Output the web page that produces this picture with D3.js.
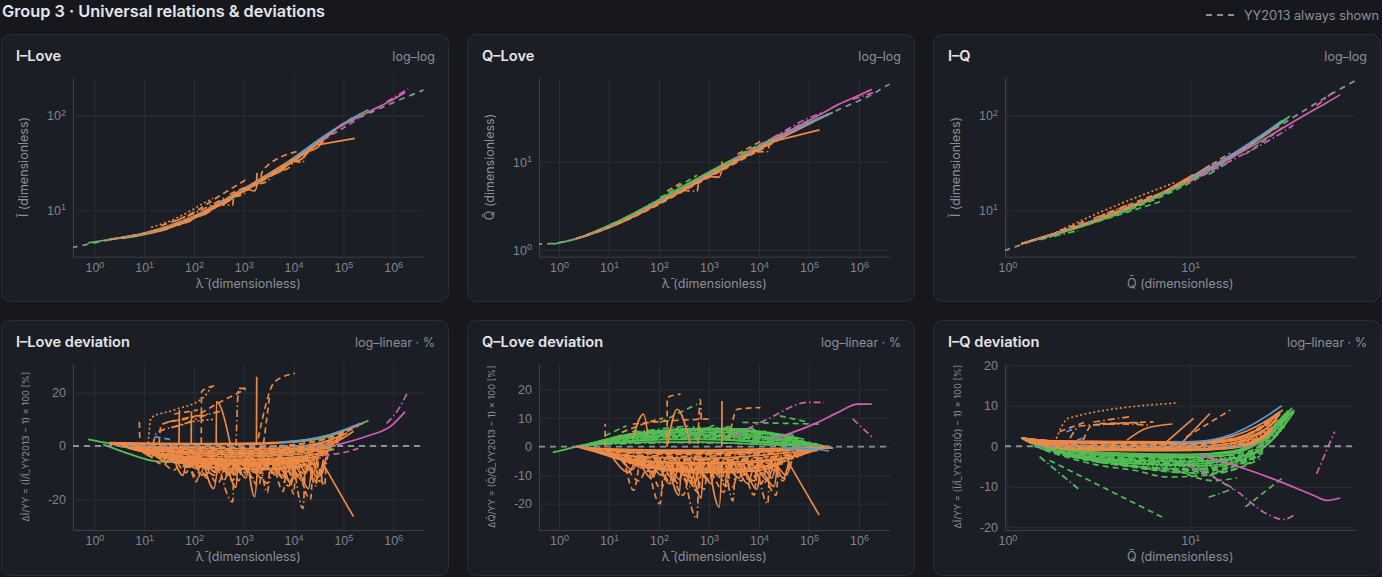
<!DOCTYPE html>
<html>
<head>
<meta charset="utf-8">
<script src="https://cdn.jsdelivr.net/npm/d3@7"></script>
<style>
  body { margin: 0; background: #16181d; overflow: hidden; }
  svg { display: block; font-family: Inter, "Noto Sans", "DejaVu Sans", sans-serif; }
</style>
</head>
<body>
<svg id="vis" width="1382" height="577"></svg>
<script>
// ---- reference curves (YY2013) ----
const yyILove = [[0.35,4.03],[1,4.54],[3,5.07],[10,5.71],[30,6.8],[100,8.6],[300,11.9],[1e3,16.8],[3e3,23.5],[1e4,35],[3e4,52],[1e5,79.8],[3e5,103.5],[1e6,137],[3.7e6,182],[4.3e6,188]];
const yyQLove = [[0.35,1.16],[1,1.214],[3,1.415],[10,1.843],[30,2.486],[100,3.576],[300,5.05],[1e3,7.35],[3e3,10.23],[1e4,14.6],[3e4,20],[1e5,27.5],[3e5,37],[1e6,50],[1.8e6,58.5],[3.9e6,76],[4.3e6,78]];
const yyIQ = [[0.96,3.76],[1,3.857],[1.2,4.36],[1.5,5.03],[2,6.02],[3,7.82],[5,11.39],[7,15.17],[10,21.4],[15,33],[20,46],[30,75.1],[40,106.6],[50,139],[65,187],[82,240]];

// tick values
const lamTicks = [1, 10, 100, 1e3, 1e4, 1e5, 1e6];
const qTicks = [1, 10];
const iTicks = [10, 100];
const qLoveTicks = [1, 10];
const iLoveDevTicks = [-20, 0, 20];
const devTicks = [-20, -10, 0, 10, 20];

// m = model variant (0..3)
// ---------- I-Love (top) ----------
const iLoveTopGreen = [
  {m:0, p:[[0.75,4.53],[2,4.92],[7,5.5]]},
  {m:0, p:[[3.7,5.04],[20,6.02],[525,13.2],[5e3,26.7]]},
  {m:0, p:[[1e4,35.5],[1.5e5,93],[3.2e5,115]]}
];
const iLoveTopOrange = [
  {m:0, p:[[2,4.93],[10,5.76],[100,8.68],[1e3,16.95],[1e4,35.6],[5e4,64],[2.2e5,104]]},
  {m:1, p:[[2,4.9],[10,5.73],[100,8.57],[1e3,16.7],[1e4,35.2],[5e4,64.2],[1.5e5,94]]},
  {m:2, p:[[2,4.9],[10,5.68],[100,8.5],[1e3,16.55],[1e4,34.8],[5e4,63.6],[1e5,83]]},
  {m:0, p:[[2.5,4.99],[10,5.64],[100,8.41],[1e3,16.38],[1e4,34.5],[5e4,63],[8e4,76]]},
  {m:3, p:[[3,5.09],[10,5.61],[100,8.34],[1e3,16.23],[1e4,34.1],[4e4,57.2],[8e4,75]]},
  {m:1, p:[[3,5.07],[15,5.95],[100,8.27],[1e3,16.1],[1e4,33.8],[4e4,56.6],[7e4,71]]},
  {m:0, p:[[4,5.2],[20,6.2],[150,9.45],[1e3,15.96],[1e4,33.5],[3e4,50.5],[6e4,65.7]]},
  {m:2, p:[[5,5.29],[20,6.15],[200,9.95],[2e3,20.1],[1e4,33.3],[3e4,50.2]]},
  {m:1, p:[[6,5.37],[30,6.5],[300,11.2],[3e3,22.1],[2e4,42.4],[4e4,55.5]]},
  {m:0, p:[[8,5.48],[40,6.9],[400,12.1],[4e3,24.9],[2e4,42.2]]},
  {m:0, p:[[15,5.9],[30,6.39],[40,7.02],[80,7.56],[100,8.26],[200,9.56],[250,10.7],[500,12.5],[700,14.6]]},
  {m:2, p:[[200,10.2],[400,11.9],[500,13.2],[1e3,14.95],[1.5e3,18.1],[3e3,20.2],[4e3,24.4],[8e3,28],[1e4,32.6]]},
  {m:0, p:[[1e3,16.3],[2e3,19.6],[3e3,22.3],[6e3,26.6],[8e3,31],[1.5e4,35.2],[2e4,41.3],[3e4,45.8],[4e4,54.6]]},
  {m:1, p:[[30,6.6],[60,7.3],[90,8.4],[150,8.9],[220,10.6],[400,11.6],[600,14],[900,15.2]]},
  {m:3, p:[[13.8,6.6],[40,8.05],[150,11.7],[240,13.4]]},
  {m:1, p:[[22,6.9],[100,9.55],[300,13.8],[1.1e3,21]]},
  {m:2, p:[[40,7.6],[120,9.7],[400,13.4]]},
  {m:1, p:[[525,14.8],[1.23e3,18.2]]},
  {m:1, p:[[2.2e3,22.5],[2.45e3,26.7],[1.15e4,41.6]]},
  {m:0, p:[[1.8e3,19.5],[1.85e3,24.8]]},
  {m:0, p:[[3e4,49],[1.7e5,57.5]]},
  {m:2, p:[[300,11.5],[600,11.3],[620,13.5]]},
  {m:0, p:[[1.2e3,16.8],[1.66e3,16],[1.9e3,19.5]]},
  {m:2, p:[[1e4,33],[1.55e4,32],[1.7e4,40]]}
];
const iLoveTopBlue = [
  {m:0, p:[[1e4,35.6],[5e4,65],[2.2e5,104]]}
];
const iLoveTopPink = [
  {m:0, p:[[7.4e4,74],[3.5e5,111.5],[8.7e5,142],[1.74e6,175]]},
  {m:2, p:[[7.4e5,139],[2e6,191]]},
  {m:1, p:[[4e4,55.5],[2e5,92]]}
];

// ---------- Q-Love (top) ----------
const qLoveTopGreen = [
  {m:0, p:[[0.75,1.166],[2,1.32],[10,1.87],[100,3.67],[1e3,7.53],[1e4,14.9],[1e5,27.6],[3e5,36.8]]},
  {m:1, p:[[2.2,1.345],[10,1.88],[100,3.71],[1e3,7.65],[1e4,15],[1e5,27.8],[2.5e5,35.5]]},
  {m:0, p:[[3,1.415],[15,2.12],[150,4.25],[1.5e3,8.73],[1.2e4,16.2],[8e4,26.7],[2e5,33.5]]},
  {m:2, p:[[3,1.415],[20,2.3],[300,5.28],[3e3,10.7],[3e4,20.5],[1.5e5,31.2]]},
  {m:1, p:[[105,3.93],[575,7.1]]},
  {m:1, p:[[4.3e3,12.4],[1.5e5,33.5]]}
];
const qLoveTopOrange = [
  {m:0, p:[[2.2,1.342],[10,1.83],[100,3.53],[1e3,7.26],[1e4,14.5],[1e5,27.4],[2.5e5,35.5]]},
  {m:1, p:[[2.2,1.342],[10,1.81],[100,3.48],[1e3,7.15],[1e4,14.3],[1e5,27.3],[2.5e5,35.3]]},
  {m:0, p:[[2.5,1.37],[12,1.88],[120,3.64],[1.2e3,7.46],[1.2e4,15.1],[8e4,25.9],[2e5,33.3]]},
  {m:2, p:[[3,1.41],[15,1.98],[150,3.87],[1.5e3,7.9],[1.5e4,15.9],[6e4,23.9],[1.5e5,30.7]]},
  {m:0, p:[[3,1.41],[20,2.12],[200,4.19],[2e3,8.53],[2e4,17],[1.2e5,28.5]]},
  {m:1, p:[[6,1.6],[40,2.54],[400,5.07],[4e3,10.24],[3e4,18.9]]},
  {m:0, p:[[2.57e4,17.9],[1.62e5,23.3]]},
  {m:2, p:[[300,4.8],[575,4.64],[620,5.9]]},
  {m:0, p:[[1e3,6.9],[1.6e3,6.75],[1.8e3,8.1]]},
  {m:2, p:[[9e3,13.1],[1.5e4,13.2],[1.6e4,15.8]]},
  {m:1, p:[[145,4.69],[270,5.74]]},
  {m:0, p:[[1.8e3,8.8],[1.82e3,10.2]]},
  {m:1, p:[[3.7e3,12.3],[1.07e4,17.2]]}
];
const qLoveTopBlue = [
  {m:0, p:[[3e4,19.9],[1.5e5,30.7],[2.5e5,35]]}
];
const qLoveTopPink = [
  {m:0, p:[[2e4,18.4],[1.5e5,33.6],[3.8e5,45.1],[9.5e5,56.9],[1.8e6,67.2]]},
  {m:2, p:[[3.2e3,10.8],[1.5e4,17.6],[9.5e4,31.5],[2e5,37.4]]},
  {m:2, p:[[7.5e5,51.9],[2e6,62.3]]}
];

// ---------- I-Q (top) ----------
const iqTopGreen = [
  {m:0, p:[[1.19,4.43],[1.6,5.25],[3,7.7],[10,21],[17,37.5],[25,61.3],[33,91.2]]},
  {m:1, p:[[1.19,4.43],[1.7,5.41],[3,7.62],[10,20.8],[18,39.8],[26,63.8],[34,94.8]]},
  {m:0, p:[[1.19,4.43],[1.8,5.57],[3,7.57],[10,20.6],[18,39.5],[27,66.5],[35,98.6]]},
  {m:2, p:[[1.3,4.64],[2,5.91],[4,9.18],[9,18.4],[16,34.3],[22,50.9]]},
  {m:1, p:[[1.6,5.19],[3,7.47],[5,10.7],[7.5,14.9],[12,23.9],[17,36.1],[22.5,51.5]]},
  {m:2, p:[[1.5,4.9],[2.44,6.11]]},
  {m:1, p:[[1.7,5.25],[7,12.5]]},
  {m:2, p:[[12.6,23.9],[17.2,34.5]]},
  {m:1, p:[[20,39.1],[32.4,75.8]]}
];
const iqTopOrange = [
  {m:0, p:[[1.19,4.43],[1.6,5.31],[3,7.91],[10,21.6],[17,38.9],[25,63.3],[31,84.8]]},
  {m:1, p:[[1.19,4.43],[1.6,5.29],[3,7.87],[10,21.5],[17,38.6],[25,62.7],[30,80.8]]},
  {m:0, p:[[1.19,4.43],[1.7,5.47],[3,7.82],[10,21.36],[17,38.3],[25,62.1],[30,80]]},
  {m:2, p:[[1.19,4.43],[1.8,5.66],[3,7.78],[10,21.27],[18,40.7],[25,61.5],[29,75.4]]},
  {m:0, p:[[1.19,4.43],[1.8,5.64],[3,7.74],[10,21.2],[18,40.5],[24,58.3],[28,71.4]]},
  {m:3, p:[[1.85,5.85],[2.15,6.73],[8.4,19.9]]},
  {m:1, p:[[1.93,6.1],[2.7,7.75]]},
  {m:2, p:[[2.95,8.2],[4.67,11.6]]},
  {m:1, p:[[3.2,8.63],[6.3,14.5]]},
  {m:0, p:[[7.4,16.2],[10.4,23.9]]},
  {m:0, p:[[9.1,19.6],[12.8,29.9]]},
  {m:1, p:[[9.5,20.7],[16.5,40.1]]}
];
const iqTopBlue = [
  {m:0, p:[[10,21.6],[17.2,39.8],[25,63.9],[32,89.3]]}
];
const iqTopPink = [
  {m:0, p:[[11.3,23.7],[21.2,46.3],[47,113.6],[55.7,136.5],[66,166]]},
  {m:2, p:[[9.55,19.4],[17.2,34.5],[26.2,52.9],[32.3,67.4],[36.6,79.3]]},
  {m:2, p:[[49,126.8],[61.5,182]]}
];

// ---------- I-Love deviation [%] ----------
const iLoveDevGreen = [
  {m:0, p:[[0.75,2.5],[2,1],[7,0],[30,-0.5]]},
  {m:0, p:[[1.5,0.6],[3.7,-2.1],[20,-5.9],[525,-6.5],[5e3,-6]]},
  {m:0, p:[[1e4,1.5],[5e4,3.5],[1.5e5,7],[3.2e5,9.5]]},
  {m:1, p:[[5e3,-2],[3e4,-2],[8e4,-1]]},
  {m:2, p:[[300,-3],[2e3,-3.5],[2e4,-3]]}
];
const iLoveDevOrange = [
  {m:0, p:[[2,1.2],[10,0.8],[100,0.6],[1e3,0.6],[1e4,1.5],[5e4,4],[2e5,8]]},
  {m:1, p:[[2,1.0],[10,0.3],[100,-0.3],[1e3,-0.5],[1e4,0.5],[5e4,3],[1.5e5,6.5]]},
  {m:2, p:[[2,0.8],[10,-0.5],[100,-1.2],[1e3,-1.5],[1e4,-0.5],[5e4,2],[1e5,4]]},
  {m:0, p:[[2.5,0.6],[10,-1.2],[100,-2.2],[1e3,-2.5],[1e4,-1.5],[5e4,1],[8e4,2.5]]},
  {m:3, p:[[3,0.3],[10,-1.8],[100,-3],[1e3,-3.4],[1e4,-2.5],[4e4,-0.5],[8e4,1.5]]},
  {m:1, p:[[3,0],[15,-2.5],[100,-3.8],[1e3,-4.2],[1e4,-3.4],[4e4,-1.5],[7e4,0.5]]},
  {m:0, p:[[4,-0.3],[20,-3.2],[150,-4.6],[1e3,-5],[1e4,-4.2],[3e4,-2.8],[6e4,-1]]},
  {m:2, p:[[5,-0.8],[20,-3.8],[200,-5.4],[2e3,-5.6],[1e4,-4.8],[3e4,-3.5]]},
  {m:1, p:[[6,-1.2],[30,-4.5],[300,-6],[3e3,-6],[2e4,-4.5],[4e4,-3.5]]},
  {m:0, p:[[8,-1.8],[40,-5.2],[400,-6.8],[4e3,-6.2],[2e4,-5]]},
  {m:3, p:[[10,-2.2],[60,-5.8],[600,-7.4],[5e3,-6.6],[3e4,-4]]},
  {m:0, p:[[2,1.3],[20,1],[300,0.9],[3e3,1.2],[2e4,2.5],[8e4,5],[2.5e5,8.5]]},
  {m:1, p:[[3,0.5],[30,-1.2],[500,-2],[5e3,-1.8],[3e4,0],[1e5,3.5]]},
  {m:2, p:[[4,0.2],[40,-2.8],[600,-3.8],[6e3,-3],[3e4,-1.2],[8e4,1]]},
  {m:0, p:[[2.2,0.9],[12,-0.2],[150,-0.8],[1.5e3,-1],[1.5e4,0],[6e4,2.5],[1.2e5,5]]},
  {m:1, p:[[5,-0.4],[25,-2],[250,-2.8],[2.5e3,-3],[2e4,-2],[6e4,0]]},
  {m:0, p:[[7,-1],[50,-4],[500,-5.2],[5e3,-5],[3e4,-3],[5e4,-2]]},
  {m:2, p:[[12,-2.5],[80,-6.2],[800,-7.8],[6e3,-7],[2.5e4,-5.5]]},
  {m:0, p:[[2,1.1],[6,0.4],[30,-1.5],[90,-2.6],[400,-3.1],[2e3,-2.8],[1.2e4,-1.9],[6e4,0.8],[1.6e5,5.5]]},
  {m:1, p:[[2.5,0.7],[8,-0.6],[40,-2.4],[150,-3.6],[700,-4],[4e3,-3.6],[2e4,-2.4],[7e4,0.2]]},
  {m:2, p:[[3,0.4],[9,-1.4],[50,-3.6],[200,-4.8],[900,-5.3],[5e3,-4.7],[2.5e4,-3.3],[6e4,-1.4]]},
  {m:0, p:[[3.5,0.2],[11,-2],[60,-4.4],[250,-5.8],[1.1e3,-6.2],[6e3,-5.6],[2.5e4,-4.2],[5e4,-2.6]]},
  {m:3, p:[[4,0],[14,-2.6],[80,-5.2],[300,-6.4],[1.5e3,-6.9],[7e3,-6.3],[2.8e4,-4.8]]},
  {m:1, p:[[2,1.2],[5,0.9],[20,0.2],[100,-0.4],[600,-0.6],[4e3,-0.2],[2e4,1.2],[9e4,4.5],[2e5,7.5]]},
  {m:0, p:[[2.2,1],[7,0.1],[35,-1],[180,-1.6],[1.1e3,-1.8],[7e3,-1.2],[3e4,0.6],[1.1e5,4.6]]},
  {m:2, p:[[6,-0.6],[25,-3.4],[120,-4.8],[600,-5.6],[3e3,-5.2],[1.5e4,-4],[4.5e4,-2.2]]},
  {m:0, p:[[9,-1.6],[35,-4.8],[180,-6.4],[800,-7],[4e3,-6.6],[1.8e4,-5.6],[3.5e4,-4.4]]},
  {m:1, p:[[15,-2.8],[70,-6.6],[350,-8],[1.5e3,-8.4],[8e3,-7.6],[2.5e4,-6.2]]},
  {m:0, p:[[20,-3.4],[100,-7.2],[500,-8.6],[3e3,-8.8],[1.2e4,-7.8],[3e4,-6.6]]},
  {m:0, p:[[15,-3],[30,-6],[40,-3.5],[80,-8],[100,-4],[200,-9],[250,-5],[500,-10],[700,-5]]},
  {m:1, p:[[50,-2],[80,-7],[120,-4],[250,-11],[300,-6],[600,-13],[800,-6],[1.5e3,-12],[2e3,-7]]},
  {m:2, p:[[200,-3],[400,-8],[500,-5],[1e3,-11],[1.5e3,-7],[3e3,-14],[4e3,-8],[8e3,-15],[1e4,-7]]},
  {m:0, p:[[1e3,-3],[2e3,-8],[3e3,-5],[6e3,-12],[8e3,-6],[1.5e4,-13],[2e4,-7],[3e4,-12],[4e4,-5]]},
  {m:1, p:[[20,-4],[40,-9],[60,-5],[120,-12],[150,-7],[300,-14],[400,-8]]},
  {m:2, p:[[3e3,-4],[5e3,-9],[7e3,-6],[1.2e4,-11],[2e4,-8],[3e4,-14],[4e4,-6]]},
  {m:3, p:[[30,-2],[60,-6],[100,-3],[200,-7],[300,-4],[700,-9],[1e3,-5],[2e3,-10],[2.5e3,-5]]},
  {m:0, p:[[500,-2],[900,-6],[1.2e3,-4],[2.5e3,-9],[3.5e3,-5],[7e3,-10],[1e4,-5]]},
  {m:1, p:[[12,-3],[25,-7],[35,-4],[70,-10],[90,-6],[150,-11],[180,-6]]},
  {m:0, p:[[2e3,-2],[4e3,-7],[5e3,-4],[1e4,-9],[1.3e4,-5],[2.5e4,-10],[3e4,-4]]},
  {m:0, p:[[25,-3],[45,-6.5],[60,-4.5],[110,-8.5],[140,-5],[260,-9.5],[330,-6],[520,-11],[650,-7],[1.1e3,-12],[1.3e3,-6]]},
  {m:2, p:[[100,-3],[180,-7],[220,-4.5],[450,-9.5],[550,-6],[1.1e3,-10],[1.3e3,-6],[2.2e3,-12],[2.6e3,-7]]},
  {m:1, p:[[400,-3.5],[700,-7.5],[850,-5],[1.8e3,-9.5],[2.2e3,-6],[4.5e3,-11],[5.5e3,-6.5],[1.1e4,-12],[1.4e4,-6]]},
  {m:0, p:[[5e3,-3],[9e3,-8],[1.1e4,-5],[1.8e4,-10],[2.2e4,-6],[3.5e4,-11],[4.5e4,-4]]},
  {m:3, p:[[15,-2],[28,-5],[38,-3],[65,-7.5],[85,-4.5],[160,-8.5],[210,-5],[380,-9],[460,-5]]},
  {m:1, p:[[60,-4],[100,-8],[130,-5.5],[280,-10],[350,-6.5],[750,-11],[900,-7],[1.7e3,-10],[2e3,-6]]},
  {m:2, p:[[1.5e3,-4],[2.8e3,-8.5],[3.5e3,-6],[7e3,-11.5],[9e3,-7],[1.7e4,-10.5],[2.2e4,-6.5],[3.8e4,-9],[5e4,-3]]},
  {m:0, p:[[8,-1],[14,-4],[18,-2],[30,-6],[40,-3],[70,-7.5],[85,-4],[130,-8],[160,-4.5]]},
  {m:1, p:[[250,-4],[380,-10],[420,-6],[800,-13],[950,-7],[2e3,-15],[2.3e3,-8]]},
  {m:0, p:[[2.5e3,-5],[4e3,-10],[4.8e3,-7],[9e3,-14],[1.1e4,-8],[2e4,-16],[2.3e4,-8]]},
  {m:2, p:[[40,-3],[70,-8],[90,-5],[180,-11],[220,-6],[420,-12.5],[480,-7]]},
  {m:2, p:[[300,-5],[600,-21],[630,-6]]},
  {m:0, p:[[1.2e3,-6],[1.66e3,-19],[1.9e3,-7]]},
  {m:2, p:[[1e4,-6],[1.55e4,-23.4],[1.7e4,-8]]},
  {m:1, p:[[4e3,-6],[6.2e3,-17],[7e3,-9]]},
  {m:0, p:[[4e4,-7],[1.6e5,-26.5]]},
  {m:1, p:[[80,-6],[112,-13.4],[130,-6]]},
  {m:2, p:[[2e4,-6],[2.8e4,-15],[3.1e4,-6]]},
  {m:0, p:[[150,-5],[250,-16],[300,-7]]},
  {m:1, p:[[8e3,-5],[1e4,-18],[1.1e4,-7]]},
  {m:2, p:[[2.5e4,-4],[3.5e4,-14],[4e4,-5]]},
  {m:0, p:[[40,-5],[60,-11],[70,-5]]},
  {m:0, p:[[450,-6],[700,-15.5],[760,-6]]},
  {m:2, p:[[2.2e3,-7],[3e3,-17.5],[3.3e3,-8]]},
  {m:1, p:[[1.2e4,-6],[2.2e4,-20],[2.4e4,-8]]},
  {m:0, p:[[6e3,-6],[9e3,-14],[1e4,-7]]},
  {m:1, p:[[3e4,-5],[4.2e4,-15],[4.5e4,-6]]},
  {m:2, p:[[130,-5],[180,-12],[200,-6]]},
  {m:1, p:[[8,9],[8.2,0.5]]},
  {m:3, p:[[12,1],[13.8,10.6],[40,13.5],[150,18],[240,22.9]]},
  {m:1, p:[[20,1],[22,8],[100,11],[300,16],[1.1e3,21.3]]},
  {m:2, p:[[15,0.5],[18,5],[60,8],[200,12],[330,13]]},
  {m:1, p:[[140,1],[142,20.4],[260,22.6]]},
  {m:0, p:[[1.8e3,0.5],[1.82e3,26]]},
  {m:1, p:[[1.95e3,2.9],[4.2e3,24.1],[1.07e4,27.25]]},
  {m:0, p:[[280,0],[282,16.6],[560,-1]]},
  {m:2, p:[[700,0],[790,21.6],[1.1e3,21.6]]},
  {m:1, p:[[2.5e3,1],[3.3e3,18.5]]},
  {m:2, p:[[30,9],[70,10.5],[200,12]]},
  {m:1, p:[[40,12],[120,13.5]]},
  {m:0, p:[[50,1],[51,13.5]]},
  {m:0, p:[[88,0.5],[89,13]]},
  {m:3, p:[[35,7],[90,9],[250,10]]}
];
const iLoveDevBlue = [
  {m:0, p:[[5e3,1.4],[1e4,1.8],[5e4,4],[2.2e5,8.5]]},
  {m:1, p:[[16,3.5],[38,2.25]]}
];
const iLoveDevPink = [
  {m:0, p:[[7.4e4,0.4],[3.5e5,4.1],[8.7e5,7.25],[1.74e6,12.9]]},
  {m:2, p:[[7.4e5,8.5],[1.3e6,14],[2e6,20.6]]},
  {m:1, p:[[4e4,-3.4],[1e5,-2.5],[2e5,-0.9]]}
];

// ---------- Q-Love deviation [%] ----------
const qLoveDevGreen = [
  {m:0, p:[[0.75,-2],[1.5,-0.8],[2.2,0],[10,1.5],[100,2.5],[1e3,2.5],[1e4,1.5],[1e5,0.3],[3e5,-0.5]]},
  {m:1, p:[[2.2,0],[10,2.2],[100,3.8],[1e3,4],[1e4,2.8],[1e5,1],[2.5e5,0]]},
  {m:0, p:[[2.5,0],[12,3],[150,4.8],[1.5e3,5],[1.2e4,3.5],[8e4,1.5],[2e5,0.2]]},
  {m:2, p:[[3,0],[15,3.6],[200,5.6],[2e3,5.4],[1.5e4,4],[6e4,2.2],[1.5e5,0.5]]},
  {m:0, p:[[2.2,0],[8,1],[60,1.6],[700,1.6],[8e3,0.9],[2e5,0]]},
  {m:1, p:[[3,0.3],[20,2.6],[300,3.2],[3e3,3.2],[2e4,2.2],[1.2e5,0.6]]},
  {m:3, p:[[4,0.5],[30,3.4],[400,4.3],[4e3,4.1],[3e4,2.8],[1.2e5,1.2]]},
  {m:0, p:[[5,1],[40,4.4],[500,6],[5e3,5.6],[2e4,4.5],[8e4,2.6]]},
  {m:2, p:[[2.5,0.2],[15,2],[150,2.8],[1.5e3,3],[1.5e4,2],[1.5e5,0.4]]},
  {m:1, p:[[3.5,0.4],[25,3],[250,3.8],[2.5e3,3.6],[2.5e4,2.4],[1e5,1]]},
  {m:0, p:[[2.3,0.1],[9,1.2],[50,2.2],[300,2.6],[2e3,2.5],[1.2e4,1.8],[6e4,0.8],[2e5,0.1]]},
  {m:1, p:[[2.6,0.2],[11,2.6],[70,3.8],[500,4.4],[3e3,4.2],[1.5e4,3.2],[6e4,1.8],[1.6e5,0.6]]},
  {m:2, p:[[3.2,0.4],[14,3.2],[90,4.6],[700,5.2],[4e3,4.9],[2e4,3.8],[7e4,2],[1.5e5,0.9]]},
  {m:0, p:[[4,0.8],[18,3.8],[120,5.4],[900,6],[5e3,5.5],[2e4,4.2],[6e4,2.6]]},
  {m:3, p:[[2.4,0.1],[10,1.8],[60,3],[400,3.6],[2.5e3,3.4],[1.5e4,2.5],[8e4,1.2],[2.2e5,0.2]]},
  {m:1, p:[[3,0.3],[12,2.2],[80,3.4],[600,3.9],[4e3,3.7],[2.5e4,2.6],[1e5,1.2]]},
  {m:0, p:[[6,1.5],[25,4.2],[150,5.8],[1e3,6.4],[6e3,5.8],[2.5e4,4.4],[5e4,3.2]]},
  {m:2, p:[[2.2,0],[6,0.6],[30,1.1],[200,1.4],[1.5e3,1.3],[1e4,0.8],[1e5,0.1]]},
  {m:1, p:[[20,3],[35,5.5],[45,3.5],[90,6],[120,4],[250,6.5],[300,4.5],[600,7],[800,4.5]]},
  {m:0, p:[[500,4],[900,6.5],[1.2e3,4.5],[2.5e3,7],[3.5e3,5],[7e3,6.5],[1e4,4]]},
  {m:2, p:[[100,3.5],[200,6],[260,4.5],[500,7],[650,5],[1.3e3,7.5],[1.6e3,5]]},
  {m:1, p:[[3e3,4],[6e3,6],[8e3,4.5],[1.5e4,5.5],[2e4,3.8],[4e4,4.5],[6e4,2.5]]},
  {m:0, p:[[10,2],[18,4],[25,2.8],[45,5],[60,3.5],[120,5.5],[150,4]]},
  {m:1, p:[[8.3,3.8],[22.4,7.3]]},
  {m:1, p:[[105,8.5],[575,14.9]]},
  {m:1, p:[[4.7e3,8.5],[1.6e5,7.9]]},
  {m:1, p:[[2.6e4,10.8],[1e5,8.5]]},
  {m:2, p:[[31,5],[150,6.5],[430,7.3]]},
  {m:0, p:[[270,6.2],[5.9e3,6.2]]},
  {m:2, p:[[60,3],[200,5],[1e3,6]]}
];
const qLoveDevOrange = [
  {m:0, p:[[2.2,0],[10,-0.8],[100,-1.2],[1e3,-1.2],[1e4,-0.8],[1e5,-0.3],[2.5e5,0]]},
  {m:1, p:[[2.2,0],[10,-1.8],[100,-2.6],[1e3,-2.8],[1e4,-2],[1e5,-0.8],[2.5e5,-0.2]]},
  {m:0, p:[[2.5,-0.2],[12,-2.6],[120,-3.8],[1.2e3,-4],[1.2e4,-3],[8e4,-1.5],[2e5,-0.5]]},
  {m:2, p:[[3,-0.4],[15,-3.4],[150,-4.8],[1.5e3,-5],[1.5e4,-4],[6e4,-2.5],[1.5e5,-1]]},
  {m:0, p:[[3,-0.6],[20,-4.2],[200,-5.8],[2e3,-6],[2e4,-4.8],[5e4,-3.5],[1.2e5,-1.6]]},
  {m:1, p:[[4,-1],[25,-5],[250,-6.8],[2.5e3,-7],[2e4,-5.6],[6e4,-3.6]]},
  {m:3, p:[[5,-1.4],[30,-5.6],[300,-7.6],[3e3,-7.6],[2.5e4,-6]]},
  {m:0, p:[[6,-2],[40,-6.2],[400,-8.2],[4e3,-8],[3e4,-5.5]]},
  {m:1, p:[[2.3,-0.1],[10,-1.2],[100,-2],[1e3,-2],[1e4,-1.4],[1e5,-0.5],[2.8e5,-0.2]]},
  {m:2, p:[[3,-0.3],[20,-3],[300,-4.3],[3e3,-4.5],[3e4,-3.2],[1.5e5,-1.3]]},
  {m:0, p:[[2.4,-0.1],[12,-1.5],[120,-2.3],[1.2e3,-2.4],[1.2e4,-1.8],[1.2e5,-0.6],[3e5,-0.4]]},
  {m:1, p:[[4,-0.8],[30,-4.6],[300,-6.2],[3e3,-6.4],[3e4,-4.4],[8e4,-2.8]]},
  {m:0, p:[[8,-2.6],[60,-7],[600,-9],[6e3,-8.6],[2.5e4,-6.5]]},
  {m:0, p:[[2.3,0],[9,-1],[60,-1.6],[500,-1.8],[4e3,-1.6],[3e4,-1],[2e5,-0.2]]},
  {m:2, p:[[2.6,-0.2],[11,-2.2],[70,-3.2],[600,-3.4],[5e3,-2.8],[4e4,-1.8],[1.8e5,-0.6]]},
  {m:1, p:[[3.2,-0.5],[14,-3],[90,-4.3],[800,-4.6],[6e3,-4],[4e4,-2.8],[1.3e5,-1.2]]},
  {m:0, p:[[3.6,-0.7],[18,-3.8],[120,-5.3],[1e3,-5.6],[8e3,-5],[4e4,-3.6],[1e5,-2]]},
  {m:3, p:[[4.5,-1.2],[22,-4.6],[160,-6.3],[1.2e3,-6.6],[9e3,-6],[3.5e4,-4.8],[7e4,-3]]},
  {m:2, p:[[5.5,-1.6],[28,-5.3],[200,-7],[1.6e3,-7.3],[1.2e4,-6.6],[3.5e4,-5]]},
  {m:0, p:[[7,-2.2],[35,-6],[250,-7.8],[2e3,-8],[1.2e4,-7.2],[3e4,-6]]},
  {m:1, p:[[10,-3],[50,-7],[350,-8.8],[2.5e3,-9],[1.2e4,-8],[2.5e4,-7]]},
  {m:0, p:[[15,-3],[30,-8],[40,-4],[80,-10],[100,-5],[200,-12],[250,-6],[500,-14],[600,-7]]},
  {m:1, p:[[40,-3],[80,-9],[120,-5],[250,-13],[300,-7],[600,-16],[700,-8]]},
  {m:2, p:[[200,-4],[400,-9],[500,-6],[1e3,-12],[1.3e3,-7],[3e3,-14],[4e3,-8],[8e3,-12],[1e4,-6]]},
  {m:0, p:[[1e3,-4],[2e3,-9],[3e3,-6],[6e3,-13],[8e3,-7],[1.5e4,-12],[2e4,-6],[3e4,-11],[4e4,-5]]},
  {m:1, p:[[20,-5],[40,-12],[60,-7],[110,-15],[150,-8],[300,-17],[400,-9]]},
  {m:2, p:[[3e3,-5],[5e3,-10],[7e3,-6],[1.2e4,-13],[2e4,-8],[3e4,-12],[4e4,-6]]},
  {m:3, p:[[30,-2],[60,-7],[100,-4],[200,-9],[300,-5],[700,-11],[1e3,-6],[2e3,-12],[2.5e3,-6]]},
  {m:0, p:[[12,-4],[25,-9],[35,-5],[70,-11],[90,-6],[160,-13],[190,-7]]},
  {m:1, p:[[500,-3],[900,-8],[1.2e3,-5],[2.5e3,-11],[3.5e3,-6],[7e3,-12],[1e4,-6]]},
  {m:0, p:[[25,-3.5],[45,-7.5],[60,-5],[110,-10],[140,-6],[260,-11.5],[330,-7],[520,-13],[650,-8],[1.1e3,-13],[1.3e3,-7]]},
  {m:2, p:[[100,-4],[180,-8],[220,-5.5],[450,-11],[550,-7],[1.1e3,-12],[1.3e3,-7],[2.2e3,-14],[2.6e3,-8]]},
  {m:1, p:[[400,-4],[700,-8.5],[850,-6],[1.8e3,-11],[2.2e3,-7],[4.5e3,-12],[5.5e3,-7],[1.1e4,-13],[1.4e4,-7]]},
  {m:0, p:[[5e3,-4],[9e3,-9],[1.1e4,-6],[1.8e4,-11],[2.2e4,-7],[3.5e4,-10],[4.5e4,-5]]},
  {m:3, p:[[15,-3],[28,-6],[38,-4],[65,-9],[85,-5.5],[160,-10],[210,-6],[380,-11],[460,-6]]},
  {m:1, p:[[250,-5],[380,-12],[420,-7],[800,-15],[950,-8],[2e3,-16],[2.3e3,-8]]},
  {m:0, p:[[2.5e3,-6],[4e3,-11],[4.8e3,-8],[9e3,-15],[1.1e4,-9],[2e4,-14],[2.3e4,-7]]},
  {m:2, p:[[40,-4],[70,-9],[90,-6],[180,-13],[220,-7],[420,-14],[480,-8]]},
  {m:2, p:[[300,-6],[575,-25.2],[620,-8]]},
  {m:0, p:[[1e3,-6],[1.6e3,-21.2],[1.8e3,-7]]},
  {m:2, p:[[9e3,-6],[1.5e4,-20],[1.6e4,-7]]},
  {m:0, p:[[3.7e4,-4.9],[1.6e5,-24]]},
  {m:1, p:[[60,-6],[105,-20],[120,-8]]},
  {m:1, p:[[20,-4],[31,-15.3],[40,-6]]},
  {m:0, p:[[150,-5],[250,-17],[280,-6]]},
  {m:1, p:[[5e3,-6],[8e3,-17],[9e3,-6]]},
  {m:0, p:[[450,-7],[700,-18],[760,-7]]},
  {m:2, p:[[2.2e3,-8],[3e3,-19],[3.3e3,-8]]},
  {m:1, p:[[1.2e4,-7],[2.2e4,-17],[2.4e4,-8]]},
  {m:1, p:[[145,0],[146,17.2],[270,18.4]]},
  {m:0, p:[[1.8e3,0],[1.82e3,16]]},
  {m:1, p:[[8.3,0],[8.4,8]]},
  {m:1, p:[[2.5e3,2.5],[3.7e3,13.1],[1.07e4,13.7]]},
  {m:0, p:[[150,1],[230,13.1],[425,0.9]]},
  {m:2, p:[[600,1],[670,16.6],[700,9]]},
  {m:1, p:[[30,7.9],[150,9],[1e3,9.7]]},
  {m:0, p:[[30,3],[49,11.4],[60,4]]},
  {m:1, p:[[18,5],[50,8],[120,10]]}
];
const qLoveDevBlue = [
  {m:0, p:[[3e4,-0.5],[1.5e5,-1],[2.5e5,-1.5]]}
];
const qLoveDevPink = [
  {m:0, p:[[2e4,2.7],[1.5e5,8.5],[3.8e5,12],[9.5e5,14.9],[1.8e6,14.9]]},
  {m:2, p:[[3.2e3,3.8],[1.5e4,9.7],[9.5e4,15.5],[2e5,15.5]]},
  {m:2, p:[[7.5e5,9.7],[2e6,2.7]]}
];

// ---------- I-Q deviation [%] ----------
const iqDevGreen = [
  {m:0, p:[[1.19,2.1],[1.6,0.2],[3,-1.5],[10,-2],[17,-1.2],[25,2.5],[33,8.1]]},
  {m:1, p:[[1.19,2.1],[1.7,-0.5],[3,-2.5],[10,-3],[18,-2],[26,1.5],[34,8.5]]},
  {m:0, p:[[1.19,2.1],[1.8,-1],[3,-3.2],[10,-3.8],[18,-2.8],[27,0.8],[35,9]]},
  {m:2, p:[[1.19,2.1],[1.9,-1.4],[3.2,-3.6],[10,-4.3],[19,-3.5],[24,-0.2],[35,8.3]]},
  {m:0, p:[[1.3,1],[2,-1.8],[4,-4.2],[9,-4.5],[16,-3.5],[22,-1.5]]},
  {m:1, p:[[1.4,0],[2.5,-3],[5,-5],[10,-5.5],[17,-4.6],[22,-2.6]]},
  {m:1, p:[[1.6,-1],[3,-4.5],[5,-6],[7.5,-7.6],[12,-7.2],[17,-5.1],[22.5,-2.6]]},
  {m:2, p:[[1.5,-0.5],[3,-3.8],[6,-5.2],[11,-5.8],[16,-4.5],[21,-3]]},
  {m:1, p:[[2,-2.2],[4,-4.6],[8,-6.4],[13,-6.8],[20,-4.8],[24,-3.2]]},
  {m:0, p:[[1.25,1.5],[1.8,-0.3],[3,-2],[10,-2.5],[17,-1.6],[25,1.8],[32,7]]},
  {m:3, p:[[1.3,1.2],[2,-1],[4,-3],[10,-3.4],[18,-2.4],[25,0.4],[33,6.5]]},
  {m:0, p:[[1.19,2.1],[1.5,0.5],[2.5,-1.5],[5,-2.5],[10,-2.8],[16,-2.2],[22,0],[29,4],[34,8.8]]},
  {m:1, p:[[1.19,2.1],[1.6,0],[2.8,-2.2],[6,-3.4],[11,-3.6],[17,-2.8],[23,-0.6],[30,3.5],[36,8.8]]},
  {m:2, p:[[1.19,2.1],[1.7,-0.6],[3,-2.8],[6,-4],[11,-4.2],[17,-3.4],[23,-1.2],[30,3],[36,8.2]]},
  {m:0, p:[[1.2,1.8],[1.8,-0.8],[3.4,-3.2],[7,-4.6],[12,-4.8],[18,-3.6],[24,-1],[31,3.8],[37,8.6]]},
  {m:3, p:[[1.3,1.2],[2,-1.4],[4,-3.8],[8,-5],[13,-5],[19,-3.6],[25,-0.5],[33,5]]},
  {m:1, p:[[1.4,0.4],[2.4,-2.4],[5,-4.8],[9,-5.8],[14,-5.6],[20,-3.8],[25,-1]]},
  {m:2, p:[[1.6,-0.6],[3,-3.4],[6,-5.6],[10,-6.6],[15,-6.2],[20,-4.6],[24,-2.4]]},
  {m:0, p:[[1.19,2.1],[1.4,1],[2,-0.6],[4,-1.8],[9,-2.2],[16,-1.6],[23,0.8],[30,4.8],[34,8.4]]},
  {m:1, p:[[1.8,-1.6],[3.5,-4],[7,-5.8],[11,-6.2],[16,-5.4],[21,-3.6],[25,-1.6]]},
  {m:0, p:[[2,-1.5],[2.6,-3],[3.2,-2],[4,-3.8],[5,-2.5],[6,-4.5],[7.5,-3],[9,-4.8],[11,-3.2],[13,-4.6]]},
  {m:2, p:[[2.5,-2],[3.2,-3.5],[4,-2.6],[5,-4.2],[6.2,-3],[7.5,-5],[9,-3.6],[11,-5.2],[13,-3.8]]},
  {m:2, p:[[1.5,-2.6],[2.44,-10.5]]},
  {m:1, p:[[1.7,-3.5],[7,-17.5]]},
  {m:2, p:[[12.6,-12.6],[17.2,-10.5]]},
  {m:1, p:[[20,-15],[32.4,-7.6]]},
  {m:0, p:[[24,1],[36,9.5]]},
  {m:0, p:[[23,-0.5],[37,9]]},
  {m:1, p:[[8.5,-6],[13.5,-8.5],[18,-7.8]]},
  {m:2, p:[[11,-5],[16,-9.8]]}
];
const iqDevOrange = [
  {m:0, p:[[1.19,2.1],[1.6,1.4],[3,1.2],[10,1.0],[17,2.5],[25,5.8],[31,8.6]]},
  {m:1, p:[[1.19,2.1],[1.6,1.0],[3,0.6],[10,0.4],[17,1.6],[25,4.8],[30,7.6]]},
  {m:0, p:[[1.19,2.1],[1.7,0.6],[3,0],[10,-0.2],[17,0.8],[25,3.8],[30,6.6]]},
  {m:2, p:[[1.19,2.1],[1.8,0.2],[3,-0.5],[10,-0.6],[18,0.2],[25,2.8],[29,5.2]]},
  {m:0, p:[[1.19,2.1],[1.8,-0.2],[3,-1],[10,-1],[18,-0.3],[24,1.8],[28,4]]},
  {m:1, p:[[1.3,1.5],[2,0.8],[5,0.8],[12,0.8],[20,2.5],[28,6]]},
  {m:3, p:[[1.3,1.2],[2,0],[5,-0.3],[12,-0.2],[20,1.2],[27,4.5]]},
  {m:1, p:[[1.19,2.1],[1.5,1.6],[2.5,1.1],[6,0.9],[14,1.2],[22,3.5],[29,7]]},
  {m:2, p:[[1.3,1.6],[2.2,0.4],[5,0],[11,0.1],[19,1],[26,4]]},
  {m:0, p:[[1.25,1.4],[2,-0.4],[4,-0.8],[9,-0.8],[16,-0.2],[23,1.5],[27,3.5]]},
  {m:0, p:[[1.19,2.1],[1.5,1.3],[2.2,0.9],[4,0.7],[8,0.6],[14,0.9],[21,2.4],[27,5],[31,8]]},
  {m:1, p:[[1.19,2.1],[1.6,0.8],[2.5,0.2],[5,0.1],[10,0.1],[16,0.6],[22,2.4],[28,5.5]]},
  {m:2, p:[[1.19,2.1],[1.7,0.3],[2.8,-0.3],[6,-0.4],[11,-0.4],[17,0.3],[23,2],[28,4.6]]},
  {m:0, p:[[1.19,2.1],[1.8,-0.4],[3.2,-0.9],[7,-1.1],[12,-0.9],[18,-0.2],[24,1.5],[27,3]]},
  {m:3, p:[[1.19,2.1],[1.6,1.1],[3,0.9],[9,0.7],[15,1.2],[22,3.3],[29,7.5]]},
  {m:1, p:[[1.3,1.7],[2,1.2],[4,1],[9,0.9],[15,1.5],[21,3.2],[30,8.2]]},
  {m:0, p:[[1.4,0.8],[2.5,-0.2],[5,-0.6],[10,-0.7],[17,0],[23,1.6],[28,4.2]]},
  {m:2, p:[[1.5,0.4],[3,-0.6],[6,-0.9],[12,-0.8],[18,0],[24,2],[29,5.5]]},
  {m:0, p:[[1.19,2.1],[1.45,1.6],[2,1.2],[3.5,1.1],[7,1.0],[13,1.2],[19,2.4],[26,5.5],[32,9]]},
  {m:1, p:[[2,0.5],[2.5,1.2],[3,0.2],[3.8,1],[4.5,0],[5.5,0.9],[6.5,-0.2],[8,0.8],[9.5,-0.3],[11,0.6]]},
  {m:0, p:[[3,-0.8],[3.6,0.3],[4.3,-0.9],[5,0.2],[6,-1],[7.2,0],[8.5,-1],[10,0.1],[12,-0.9],[14,0.2]]},
  {m:3, p:[[1.85,1.9],[2.15,6.9],[8.4,10.7]]},
  {m:1, p:[[1.93,3.6],[2.7,6.1]]},
  {m:2, p:[[2.95,6],[4.67,7.3]]},
  {m:1, p:[[3.2,5.6],[6.3,6]]},
  {m:0, p:[[7.4,1.1],[10.4,6.9]]},
  {m:0, p:[[9.1,1.1],[12.8,8.1]]},
  {m:1, p:[[9.5,2.3],[16.5,8.9]]},
  {m:2, p:[[2.2,2],[2.5,5],[4.2,5.5],[6,5.2]]},
  {m:0, p:[[4.5,1.5],[5.8,4.5],[8,5.5]]},
  {m:1, p:[[2.6,1.5],[2.9,5.2],[5.2,5.8]]}
];
const iqDevBlue = [
  {m:0, p:[[8,1.15],[10,1.1],[17.2,3.1],[25,6.9],[31.6,10]]},
  {m:1, p:[[2.1,3.6],[2.35,4.4]]},
  {m:1, p:[[2.4,1.5],[2.7,2.3]]}
];
const iqDevPink = [
  {m:0, p:[[11.3,-2.2],[21.2,-6],[30,-8.5],[47,-12.1],[55.7,-13.4],[66,-12.8]]},
  {m:2, p:[[9.55,-4.7],[17.2,-10.5],[26.2,-16.7],[32.3,-18.1],[36.6,-17.1]]},
  {m:2, p:[[49,-6.8],[61.5,3.6]]}
];

// ---- styling ----
const colors = {green: "#52be55", orange: "#ec8a47", blue: "#4e9bde", pink: "#d25fb4"};
const dashes = [null, "6,4", "7,3,1.5,3", "2,2.5"];
const gridCol = "#2a2e36", axisCol = "#3b4049", tickCol = "#80858e", subCol = "#8b9099", yyCol = "#8c9198";
const PW = 448, colX = [1, 467, 933], rowY = [34, 320], rowH = [268, 256];

const svg = d3.select("#vis");

svg.append("text").attr("x", 2).attr("y", 17)
  .attr("fill", "#e4e6ea").style("font-size", "16.3px").style("font-weight", 600)
  .text("Group 3 · Universal relations & deviations");
svg.append("line").attr("x1", 1206).attr("x2", 1236).attr("y1", 15).attr("y2", 15)
  .attr("stroke", yyCol).attr("stroke-width", 2).attr("stroke-dasharray", "6,5");
svg.append("text").attr("x", 1379).attr("y", 19.5).attr("text-anchor", "end")
  .attr("fill", subCol).style("font-size", "12.8px").text("YY2013 always shown");

const panels = [
  {c:0, r:0, title:"I–Love", tag:"log–log", xd:[0.372,4.07e6], yd:[3.24,253], ylog:true, xt:lamTicks, yt:iTicks,
   xl:"λ̄ (dimensionless)", yl:"Ī (dimensionless)", yy:yyILove,
   s:{green:iLoveTopGreen, orange:iLoveTopOrange, blue:iLoveTopBlue, pink:iLoveTopPink}},
  {c:1, r:0, title:"Q–Love", tag:"log–log", xd:[0.398,4.07e6], yd:[0.839,92.3], ylog:true, xt:lamTicks, yt:qLoveTicks,
   xl:"λ̄ (dimensionless)", yl:"Q̄ (dimensionless)", yy:yyQLove,
   s:{green:qLoveTopGreen, orange:qLoveTopOrange, blue:qLoveTopBlue, pink:qLoveTopPink}},
  {c:2, r:0, title:"I–Q", tag:"log–log", xd:[0.97,80], yd:[3.24,253], ylog:true, xt:qTicks, yt:iTicks,
   xl:"Q̄ (dimensionless)", yl:"Ī (dimensionless)", yy:yyIQ,
   s:{green:iqTopGreen, orange:iqTopOrange, blue:iqTopBlue, pink:iqTopPink}},
  {c:0, r:1, title:"I–Love deviation", tag:"log–linear · %", xd:[0.372,4.07e6], yd:[-31.5,31], ylog:false, xt:lamTicks, yt:iLoveDevTicks,
   xl:"λ̄ (dimensionless)", yl:"ΔĪ/YY = (Ī/Ī_YY2013 − 1) × 100 [%]", yy:null,
   s:{green:iLoveDevGreen, orange:iLoveDevOrange, blue:iLoveDevBlue, pink:iLoveDevPink}},
  {c:1, r:1, title:"Q–Love deviation", tag:"log–linear · %", xd:[0.398,4.07e6], yd:[-29.2,29.2], ylog:false, xt:lamTicks, yt:devTicks,
   xl:"λ̄ (dimensionless)", yl:"ΔQ̄/YY = (Q̄/Q̄_YY2013 − 1) × 100 [%]", yy:null,
   s:{green:qLoveDevGreen, orange:qLoveDevOrange, blue:qLoveDevBlue, pink:qLoveDevPink}},
  {c:2, r:1, title:"I–Q deviation", tag:"log–linear · %", xd:[0.97,80], yd:[-20.7,20.5], ylog:false, xt:qTicks, yt:devTicks,
   xl:"Q̄ (dimensionless)", yl:"ΔĪ/YY = (Ī/Ī_YY2013(Q̄) − 1) × 100 [%]", yy:null,
   s:{green:iqDevGreen, orange:iqDevOrange, blue:iqDevBlue, pink:iqDevPink}}
];

function powLabel(sel) {
  sel.each(function (d) {
    const t = d3.select(this).text("10");
    t.append("tspan").attr("dy", "-0.5em").style("font-size", "0.72em").text(Math.round(Math.log10(d)));
  });
}

panels.forEach((p, i) => {
  const h = rowH[p.r];
  const g = svg.append("g").attr("transform", `translate(${colX[p.c]},${rowY[p.r]})`);
  g.append("rect").attr("x", 0.5).attr("y", 0.5).attr("width", PW - 1).attr("height", h - 1).attr("rx", 9)
    .attr("fill", "#1b1e24").attr("stroke", "#2a2d35");
  g.append("text").attr("x", 15).attr("y", 26.5).attr("fill", "#e4e6ea")
    .style("font-size", "14.6px").style("font-weight", 600).text(p.title);
  g.append("text").attr("x", 434).attr("y", 26.5).attr("text-anchor", "end").attr("fill", subCol)
    .style("font-size", "12.5px").text(p.tag);

  const L = 72, R = 422.5, T = 43.3, B = p.r === 0 ? 222.7 : 210;
  const x = d3.scaleLog().domain(p.xd).range([L, R]);
  const y = (p.ylog ? d3.scaleLog() : d3.scaleLinear()).domain(p.yd).range([B, T]);

  // grid + axes
  const gx = g.append("g").attr("transform", `translate(0,${B})`)
    .call(d3.axisBottom(x).tickValues(p.xt).tickSizeInner(-(B - T)).tickSizeOuter(0).tickPadding(6.5).tickFormat(() => ""));
  const gy = g.append("g").attr("transform", `translate(${L},0)`)
    .call(d3.axisLeft(y).tickValues(p.yt).tickSizeInner(-(R - L)).tickSizeOuter(0).tickPadding(7)
      .tickFormat(p.ylog ? () => "" : d => String(d)));
  [gx, gy].forEach(a => {
    a.select(".domain").attr("stroke", axisCol);
    a.selectAll(".tick line").attr("stroke", gridCol);
    a.selectAll(".tick text").attr("fill", tickCol).style("font-size", "12.5px").style("font-family", "inherit");
  });
  powLabel(gx.selectAll(".tick text"));
  if (p.ylog) powLabel(gy.selectAll(".tick text"));

  g.append("text").attr("x", (L + R) / 2).attr("y", B + 31).attr("text-anchor", "middle")
    .attr("fill", subCol).style("font-size", "12.5px").text(p.xl);
  g.append("text").attr("transform", `translate(${p.r === 0 ? 22.5 : 24.5},${(T + B) / 2}) rotate(-90)`)
    .attr("text-anchor", "middle").attr("dominant-baseline", "central").attr("fill", subCol)
    .style("font-size", p.r === 0 ? "12.5px" : "9.3px").text(p.yl);

  // data
  g.append("clipPath").attr("id", "clip" + i).append("rect")
    .attr("x", L).attr("y", T).attr("width", R - L).attr("height", B - T);
  const plot = g.append("g").attr("clip-path", `url(#clip${i})`);
  const line = d3.line().x(d => x(d[0])).y(d => y(d[1])).curve(d3.curveMonotoneX);
  ["green", "orange", "blue", "pink"].forEach(k => {
    plot.append("g").selectAll("path").data(p.s[k]).join("path")
      .attr("d", d => line(d.p))
      .attr("fill", "none").attr("stroke", colors[k]).attr("stroke-width", 1.7)
      .attr("stroke-linejoin", "round")
      .attr("stroke-dasharray", d => dashes[d.m]);
  });

  // YY2013 reference
  const ref = p.yy ? p.yy : p.xd.map(v => [v, 0]);
  plot.append("path").attr("d", line(ref)).attr("fill", "none")
    .attr("stroke", yyCol).attr("stroke-width", 1.8).attr("stroke-dasharray", "6,5");
});
</script>
</body>
</html>
